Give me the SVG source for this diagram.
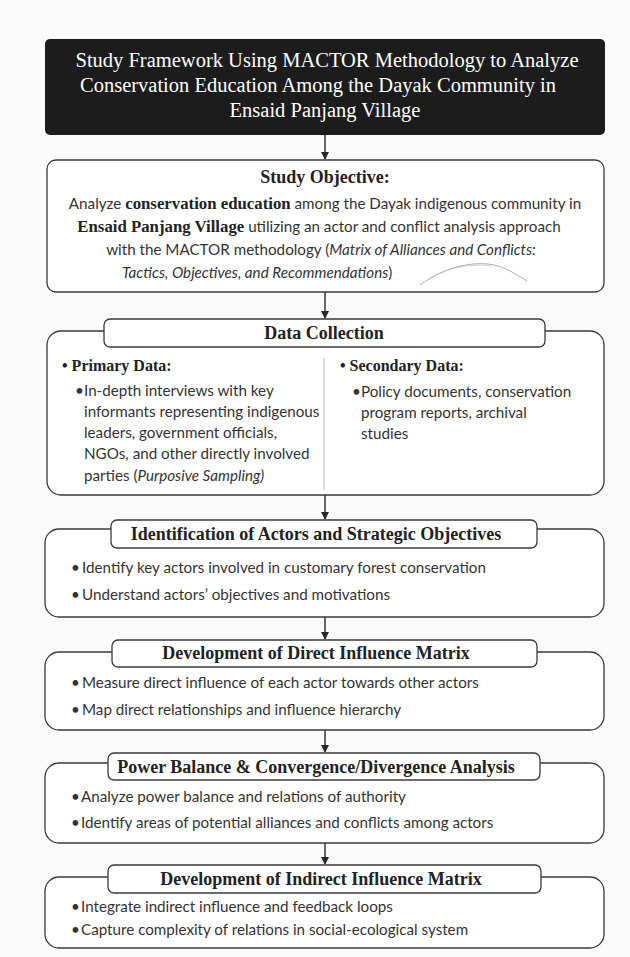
<svg xmlns="http://www.w3.org/2000/svg" width="630" height="957" viewBox="0 0 630 957">
<defs>
<marker id="ah" markerWidth="8" markerHeight="8" refX="7" refY="4" orient="auto" markerUnits="userSpaceOnUse">
<path d="M0,0 L8,4 L0,8 Z" fill="#2a2a2a"/>
</marker>
<style>
.bg{fill:#fafafa}
.box{fill:#ffffff;stroke:#3a3a3a;stroke-width:1.3}
.pill{fill:#ffffff;stroke:#3a3a3a;stroke-width:1.3}
.title{font-family:"Liberation Serif",serif;font-size:20.5px;fill:#ffffff;text-anchor:middle}
.hd{font-family:"Liberation Serif",serif;font-size:18px;font-weight:bold;fill:#222;text-anchor:middle}
.sub{font-family:"Liberation Serif",serif;font-size:16px;font-weight:bold;fill:#222}
.body{font-family:Lato,"Liberation Sans",sans-serif;font-size:15.2px;fill:#333}
.bb{font-family:"Liberation Serif",serif;font-weight:bold;font-size:16.8px;fill:#222}
.it{font-style:italic}
.conn{stroke:#2a2a2a;stroke-width:1.4;fill:none}
</style>
</defs>
<rect class="bg" x="0" y="0" width="630" height="957"/>

<g id="connectors">
<line class="conn" x1="325" y1="135" x2="325" y2="159" marker-end="url(#ah)"/>
<line class="conn" x1="325" y1="292" x2="325" y2="318" marker-end="url(#ah)"/>
<line class="conn" x1="325" y1="495" x2="325" y2="519" marker-end="url(#ah)"/>
<line class="conn" x1="325" y1="617" x2="325" y2="639" marker-end="url(#ah)"/>
<line class="conn" x1="325" y1="730" x2="325" y2="752" marker-end="url(#ah)"/>
<line class="conn" x1="325" y1="843" x2="325" y2="864" marker-end="url(#ah)"/>
</g>

<g id="title">
<rect x="45" y="39" width="560" height="96" rx="5" fill="#1c1c1c"/>
<text class="title" x="327" y="67">Study Framework Using MACTOR Methodology to Analyze</text>
<text class="title" x="318" y="92">Conservation Education Among the Dayak Community in</text>
<text class="title" x="325" y="117">Ensaid Panjang Village</text>
</g>

<g id="objective">
<rect class="box" x="47" y="160" width="557" height="132" rx="9"/>
<text class="hd" x="325" y="183">Study Objective:</text>
<text class="body" x="325" y="209" text-anchor="middle">Analyze <tspan class="bb">conservation education</tspan> among the Dayak indigenous community in</text>
<text class="body" x="319" y="232" text-anchor="middle"><tspan class="bb">Ensaid Panjang Village</tspan> utilizing an actor and conflict analysis approach</text>
<text class="body" x="321" y="255" text-anchor="middle">with the MACTOR methodology (<tspan class="it">Matrix of Alliances and Conflicts:</tspan></text>
<text class="body" x="122" y="278"><tspan class="it">Tactics, Objectives, and Recommendations</tspan>)</text>
<path d="M420,285 C440,270 465,262 488,264 C505,266 515,274 527,281" fill="none" stroke="#9a9a9a" stroke-width="0.8"/>
<path d="M426,281 C445,268 470,263 492,266" fill="none" stroke="#b5b5b5" stroke-width="0.6"/>
</g>

<g id="data-collection">
<rect class="box" x="47" y="331" width="557" height="164" rx="14"/>
<rect class="pill" x="104" y="319" width="441" height="28" rx="6"/>
<text class="hd" x="324" y="339">Data Collection</text>
<line x1="324" y1="358" x2="324" y2="490" stroke="#bbbbbb" stroke-width="1"/>
<text class="sub" x="62" y="371">• Primary Data:</text>
<text class="body" x="75" y="396">•</text>
<text class="body" x="84" y="396">In-depth interviews with key</text>
<text class="body" x="84" y="417">informants representing indigenous</text>
<text class="body" x="84" y="438">leaders, government officials,</text>
<text class="body" x="84" y="459">NGOs, and other directly involved</text>
<text class="body" x="84" y="481">parties (<tspan class="it">Purposive Sampling)</tspan></text>
<text class="sub" x="340" y="371">• Secondary Data:</text>
<text class="body" x="352" y="397">•</text>
<text class="body" x="361" y="397">Policy documents, conservation</text>
<text class="body" x="361" y="418">program reports, archival</text>
<text class="body" x="361" y="439">studies</text>
</g>

<g id="identification">
<rect class="box" x="45" y="529" width="559" height="88" rx="14"/>
<rect class="pill" x="111" y="520" width="426" height="28" rx="6"/>
<text class="hd" x="316" y="540">Identification of Actors and Strategic Objectives</text>
<text class="body" x="71" y="573">•</text>
<text class="body" x="82" y="573">Identify key actors involved in customary forest conservation</text>
<text class="body" x="71" y="600">•</text>
<text class="body" x="82" y="600">Understand actors’ objectives and motivations</text>
</g>

<g id="direct-matrix">
<rect class="box" x="45" y="652" width="559" height="78" rx="14"/>
<rect class="pill" x="112" y="640" width="425" height="27" rx="6"/>
<text class="hd" x="316" y="659">Development of Direct Influence Matrix</text>
<text class="body" x="71" y="688">•</text>
<text class="body" x="82" y="688">Measure direct influence of each actor towards other actors</text>
<text class="body" x="71" y="715">•</text>
<text class="body" x="82" y="715">Map direct relationships and influence hierarchy</text>
</g>

<g id="power-balance">
<rect class="box" x="45" y="763" width="559" height="80" rx="14"/>
<rect class="pill" x="108" y="753" width="432" height="27" rx="6"/>
<text class="hd" x="316" y="773">Power Balance &amp; Convergence/Divergence Analysis</text>
<text class="body" x="71" y="802">•</text>
<text class="body" x="81" y="802">Analyze power balance and relations of authority</text>
<text class="body" x="71" y="828">•</text>
<text class="body" x="81" y="828">Identify areas of potential alliances and conflicts among actors</text>
</g>

<g id="indirect-matrix">
<rect class="box" x="45" y="877" width="559" height="71" rx="14"/>
<rect class="pill" x="108" y="865" width="433" height="28" rx="6"/>
<text class="hd" x="321" y="885">Development of Indirect Influence Matrix</text>
<text class="body" x="71" y="912">•</text>
<text class="body" x="81" y="912">Integrate indirect influence and feedback loops</text>
<text class="body" x="71" y="935">•</text>
<text class="body" x="81" y="935">Capture complexity of relations in social-ecological system</text>
</g>
</svg>
